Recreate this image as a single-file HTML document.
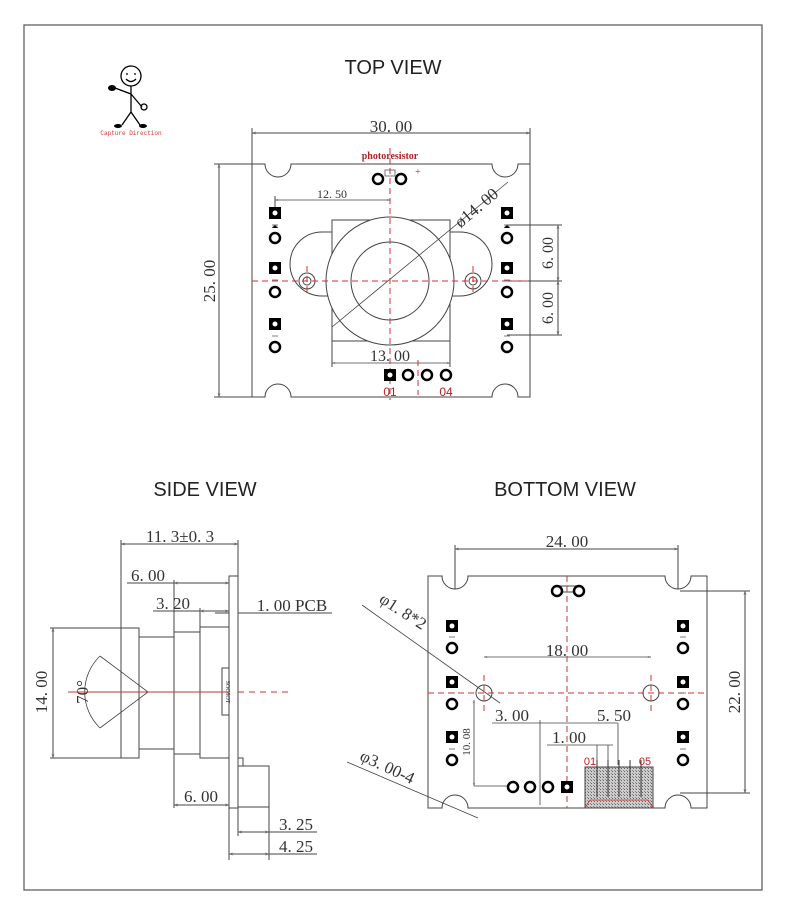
<!DOCTYPE html>
<html><head><meta charset="utf-8"><style>
html,body{margin:0;padding:0;background:#fff;width:790px;height:910px;overflow:hidden}
svg{display:block}
.t{font-family:"Liberation Serif",serif;fill:#333}
.s{font-family:"Liberation Sans",sans-serif;fill:#222}
</style></head><body>
<svg width="790" height="910" viewBox="0 0 790 910" xmlns="http://www.w3.org/2000/svg">
<rect x="24" y="25" width="738" height="865" fill="none" stroke="#555" stroke-width="1.2"/>
<defs>
<marker id="a" viewBox="0 0 10 10" refX="10" refY="5" markerWidth="6" markerHeight="4" orient="auto-start-reverse"><path d="M0,2 L10,5 L0,8" fill="none" stroke="#666"/></marker>
<pattern id="h" width="3" height="3" patternUnits="userSpaceOnUse"><rect width="3" height="3" fill="#ccc"/><rect width="1" height="1" fill="#666"/><rect x="2" y="2" width="1" height="1" fill="#888"/></pattern>
</defs>

<!-- stick figure -->
<g stroke="#000" stroke-width="1.3" fill="none">
<circle cx="131" cy="76" r="10"/>
<path d="M126,74 h2 M134,74 h2"/><path d="M126,79 q5,5 10,0"/>
<path d="M131,86 L131,112 M131,112 L122,125 M131,112 L140,125 M131,94 L115,88 M131,94 L142,107"/>
<circle cx="144" cy="107" r="3"/>
</g>
<ellipse cx="112" cy="88" rx="4" ry="3" fill="#000"/>
<ellipse cx="118" cy="126" rx="4" ry="2" fill="#000"/><ellipse cx="143" cy="126" rx="4" ry="2" fill="#000"/>
<text x="131" y="135" font-size="6" fill="#d33" text-anchor="middle" font-family="Liberation Mono,monospace">Capture Direction</text>

<text x="393" y="74" font-size="20" class="s" text-anchor="middle">TOP VIEW</text>
<text x="205" y="496" font-size="20" class="s" text-anchor="middle">SIDE VIEW</text>
<text x="565" y="496" font-size="20" class="s" text-anchor="middle">BOTTOM  VIEW</text>

<!-- TOP VIEW -->
<g stroke="#444" stroke-width="1" fill="none">
<path d="M252,164 H265 A13,13 0 0 0 291,164 H492 A13,13 0 0 0 518,164 H530 V397 H518 A13,13 0 0 0 492,397 H291 A13,13 0 0 0 265,397 H252 Z"/>
<rect x="332" y="220" width="118" height="121"/>
<path d="M332,232 H322 A15,15 0 0 0 322,296 H332" /> 
<path d="M450,232 H460 A15,15 0 0 1 460,296 H450"/>
<circle cx="307" cy="281" r="8"/><circle cx="307" cy="281" r="4"/>
<circle cx="473" cy="281" r="8"/><circle cx="473" cy="281" r="4"/>
<circle cx="390" cy="281" r="64" fill="#fff"/>
<circle cx="390" cy="281" r="39"/>
<line x1="332" y1="327" x2="508" y2="182" stroke-width="0.8"/>
<!-- dims -->
<path d="M252,164 V128 M530,164 V128"/>
<line x1="252" y1="133" x2="530" y2="133" marker-start="url(#a)" marker-end="url(#a)"/>
<path d="M252,164 H214 M252,397 H214"/>
<line x1="219" y1="164" x2="219" y2="397" marker-start="url(#a)" marker-end="url(#a)"/>
<line x1="275" y1="200" x2="390" y2="200" marker-start="url(#a)" marker-end="url(#a)" stroke-width="0.8"/>
<path d="M275,196 V212"/>
<path d="M332,341 V367 M450,341 V367"/>
<line x1="332" y1="363" x2="450" y2="363" marker-start="url(#a)" marker-end="url(#a)" stroke-width="0.8"/>
<path d="M507,225 H562 M507,281 H562 M507,335 H562"/>
<line x1="558" y1="225" x2="558" y2="281" marker-start="url(#a)" marker-end="url(#a)"/>
<line x1="558" y1="281" x2="558" y2="335" marker-start="url(#a)" marker-end="url(#a)"/>
</g>
<g stroke="#c33" stroke-width="1" stroke-dasharray="6,4" fill="none">
<line x1="390" y1="148" x2="390" y2="400"/>
<line x1="252" y1="281" x2="530" y2="281"/>
<line x1="307" y1="266" x2="307" y2="296"/><line x1="473" y1="266" x2="473" y2="296"/>
<line x1="418" y1="360" x2="418" y2="395"/>
</g>
<!-- pads top -->
<g stroke="#000" stroke-width="2.5" fill="#fff">
<circle cx="378" cy="179" r="5"/><circle cx="401" cy="179" r="5"/>
<circle cx="275" cy="238" r="5"/><circle cx="275" cy="292" r="5"/><circle cx="275" cy="347" r="5"/>
<circle cx="507" cy="238" r="5"/><circle cx="507" cy="292" r="5"/><circle cx="507" cy="347" r="5"/>
<circle cx="408" cy="375" r="5"/><circle cx="427" cy="375" r="5"/><circle cx="446" cy="375" r="5"/>
</g>
<g fill="#000">
<rect x="269" y="207" width="12" height="12"/><rect x="269" y="262" width="12" height="12"/><rect x="269" y="318" width="12" height="12"/>
<rect x="501" y="207" width="12" height="12"/><rect x="501" y="262" width="12" height="12"/><rect x="501" y="318" width="12" height="12"/>
<rect x="384" y="369" width="12" height="12"/>
</g>
<g fill="#fff"><circle cx="275" cy="213" r="2.5"/><circle cx="275" cy="268" r="2.5"/><circle cx="275" cy="324" r="2.5"/><circle cx="507" cy="213" r="2.5"/><circle cx="507" cy="268" r="2.5"/><circle cx="507" cy="324" r="2.5"/><circle cx="390" cy="375" r="2.5"/></g>
<g stroke="#555" stroke-width="0.8"><path d="M272,225 h6 M272,228 l3,-3 l3,3 M507,225 m-3,0 h6 M504,228 l3,-3 l3,3 M272,280 h6 M504,280 h6 M272,336 h6 M504,336 h6"/><rect x="385" y="170" width="10" height="6" fill="none"/></g>
<text x="390" y="159" font-size="10" fill="#a22" font-weight="bold" text-anchor="middle" font-family="Liberation Serif,serif">photoresistor</text>
<text x="418" y="175" font-size="10" fill="#c33" text-anchor="middle">+</text>
<text x="391" y="132" font-size="17" class="t" text-anchor="middle">30. 00</text>
<text x="215" y="281" font-size="17" class="t" text-anchor="middle" transform="rotate(-90 215 281)">25. 00</text>
<text x="332" y="198" font-size="12" class="t" text-anchor="middle">12. 50</text>
<text x="390" y="361" font-size="16" class="t" text-anchor="middle">13. 00</text>
<text x="480" y="212" font-size="17" class="t" text-anchor="middle" transform="rotate(-40 480 212)">ø14. 00</text>
<text x="553" y="253" font-size="16" class="t" text-anchor="middle" transform="rotate(-90 553 253)">6. 00</text>
<text x="553" y="308" font-size="16" class="t" text-anchor="middle" transform="rotate(-90 553 308)">6. 00</text>
<text x="390" y="396" font-size="12" fill="#b22" text-anchor="middle" font-family="Liberation Sans,sans-serif">01</text>
<text x="446" y="396" font-size="12" fill="#b22" text-anchor="middle" font-family="Liberation Sans,sans-serif">04</text>

<!-- SIDE VIEW -->
<g stroke="#444" stroke-width="1" fill="none">
<rect x="229" y="576" width="9" height="232" fill="#fff"/>
<rect x="121" y="628" width="18" height="130"/>
<rect x="139" y="637" width="35" height="112"/>
<rect x="174" y="632" width="26" height="122"/>
<rect x="200" y="627" width="29" height="131"/>
<rect x="222" y="668" width="7" height="47"/>
<rect x="238" y="766" width="31" height="41"/>
<rect x="238" y="758" width="5" height="8"/>
<path d="M100,656 L148,692 L100,728 M100,656 A50,50 0 0 0 100,728" stroke-width="0.8"/>
<path d="M121,628 V540 M238,576 V540"/>
<line x1="121" y1="544" x2="238" y2="544" marker-start="url(#a)" marker-end="url(#a)"/>
<path d="M121,628 H50 M121,758 H50"/>
<line x1="53" y1="628" x2="53" y2="758" marker-start="url(#a)" marker-end="url(#a)"/>
<path d="M174,632 V580 M200,627 V608 M127,583 H174 M153,611 H200"/>
<line x1="174" y1="583" x2="229" y2="583" marker-start="url(#a)" marker-end="url(#a)"/>
<line x1="200" y1="611" x2="229" y2="611" marker-start="url(#a)" marker-end="url(#a)"/>
<path d="M215,613 H229 M238,613 H332"/>
<path d="M174,754 V808 M229,808 V860 M269,807 V860 M238,808 V836"/>
<line x1="174" y1="805" x2="229" y2="805" marker-start="url(#a)" marker-end="url(#a)"/>
<line x1="238" y1="832" x2="269" y2="832" marker-start="url(#a)" marker-end="url(#a)"/><path d="M269,832 H317"/>
<line x1="229" y1="854" x2="269" y2="854" marker-start="url(#a)" marker-end="url(#a)"/><path d="M269,854 H317"/>
</g>
<line x1="68" y1="692" x2="229" y2="692" stroke="#c33"/>
<line x1="238" y1="692" x2="290" y2="692" stroke="#c33" stroke-dasharray="6,5"/>
<text x="180" y="542" font-size="17" class="t" text-anchor="middle">11. 3±0. 3</text>
<text x="148" y="581" font-size="17" class="t" text-anchor="middle">6. 00</text>
<text x="173" y="609" font-size="17" class="t" text-anchor="middle">3. 20</text>
<text x="292" y="611" font-size="17" class="t" text-anchor="middle">1. 00 PCB</text>
<text x="47" y="692" font-size="17" class="t" text-anchor="middle" transform="rotate(-90 47 692)">14. 00</text>
<text x="88" y="692" font-size="17" class="t" text-anchor="middle" transform="rotate(-90 88 692)">70°</text>
<text x="201" y="802" font-size="17" class="t" text-anchor="middle">6. 00</text>
<text x="296" y="830" font-size="17" class="t" text-anchor="middle">3. 25</text>
<text x="296" y="852" font-size="17" class="t" text-anchor="middle">4. 25</text>
<text x="226" y="692" font-size="6" class="t" text-anchor="middle" transform="rotate(90 226 692)">SOC8OT</text>

<!-- BOTTOM VIEW -->
<g stroke="#444" stroke-width="1" fill="none">
<path d="M428,576 H442 A13,13 0 0 0 468,576 H665 A13,13 0 0 0 691,576 H707 V808 H691 A13,13 0 0 0 665,808 H468 A13,13 0 0 0 442,808 H428 Z"/>
<circle cx="484" cy="693" r="8"/><circle cx="651" cy="693" r="8"/>
<path d="M455,589 V545 M678,589 V545"/>
<line x1="455" y1="549" x2="678" y2="549" marker-start="url(#a)" marker-end="url(#a)"/>
<line x1="484" y1="657" x2="651" y2="657" marker-start="url(#a)" marker-end="url(#a)" stroke-width="0.8"/>
<path d="M680,591 H750 M680,793 H750"/>
<line x1="745" y1="591" x2="745" y2="793" marker-start="url(#a)" marker-end="url(#a)"/>
<line x1="362" y1="605" x2="500" y2="703" stroke-width="0.8"/>
<line x1="347" y1="762" x2="478" y2="818" stroke-width="0.8"/>
<line x1="474" y1="700" x2="474" y2="786" marker-start="url(#a)" marker-end="url(#a)" stroke-width="0.8"/>
<path d="M474,786 H510 M540,720 V805 M618,723 V765" stroke-width="0.8"/>
<line x1="492" y1="723" x2="618" y2="723" stroke-width="0.8"/>
<line x1="547" y1="745" x2="613" y2="745" stroke-width="0.8"/>
<path d="M597,745 V800 M608,745 V800" stroke-width="0.8"/>
<rect x="585" y="767" width="68" height="41" fill="url(#h)"/>
<path d="M597,760 V797 M608,760 V797 M619,760 V797 M630,760 V797 M641,760 V797" stroke="#333"/>
<rect x="557" y="586" width="22" height="6"/>
</g>
<g stroke="#c33" stroke-width="1" stroke-dasharray="6,4" fill="none">
<line x1="567" y1="576" x2="567" y2="808"/>
<line x1="428" y1="693" x2="707" y2="693"/>
<line x1="484" y1="675" x2="484" y2="712"/><line x1="651" y1="675" x2="651" y2="712"/>
</g>
<path d="M590,800 L585,808 M648,800 L653,808 M590,800 H648" stroke="#c33" fill="none" stroke-width="0.8"/>
<g stroke="#000" stroke-width="2.5" fill="#fff">
<circle cx="557" cy="591" r="5"/><circle cx="579" cy="591" r="5"/>
<circle cx="452" cy="648" r="5"/><circle cx="452" cy="704" r="5"/><circle cx="452" cy="760" r="5"/>
<circle cx="683" cy="648" r="5"/><circle cx="683" cy="704" r="5"/><circle cx="683" cy="760" r="5"/>
<circle cx="513" cy="787" r="5"/><circle cx="530" cy="787" r="5"/><circle cx="548" cy="787" r="5"/>
</g>
<g fill="#000">
<rect x="446" y="620" width="12" height="12"/><rect x="446" y="676" width="12" height="12"/><rect x="446" y="731" width="12" height="12"/>
<rect x="677" y="620" width="12" height="12"/><rect x="677" y="676" width="12" height="12"/><rect x="677" y="731" width="12" height="12"/>
<rect x="561" y="781" width="12" height="12"/>
</g>
<g fill="#fff"><circle cx="452" cy="626" r="2.5"/><circle cx="452" cy="682" r="2.5"/><circle cx="452" cy="737" r="2.5"/><circle cx="683" cy="626" r="2.5"/><circle cx="683" cy="682" r="2.5"/><circle cx="683" cy="737" r="2.5"/><circle cx="567" cy="787" r="2.5"/></g>
<g stroke="#555" stroke-width="0.8"><path d="M449,637 h6 M449,693 h6 M449,749 h6 M680,637 h6 M680,693 h6 M680,749 h6"/></g>
<text x="567" y="547" font-size="17" class="t" text-anchor="middle">24. 00</text>
<text x="567" y="656" font-size="17" class="t" text-anchor="middle">18. 00</text>
<text x="740" y="692" font-size="17" class="t" text-anchor="middle" transform="rotate(-90 740 692)">22. 00</text>
<text x="400" y="616" font-size="17" class="t" text-anchor="middle" transform="rotate(33 400 616)">φ1. 8*2</text>
<text x="385" y="772" font-size="17" class="t" text-anchor="middle" transform="rotate(25 385 772)">φ3. 00-4</text>
<text x="470" y="742" font-size="11" class="t" text-anchor="middle" transform="rotate(-90 470 742)">10. 08</text>
<text x="512" y="721" font-size="17" class="t" text-anchor="middle">3. 00</text>
<text x="614" y="721" font-size="17" class="t" text-anchor="middle">5. 50</text>
<text x="569" y="743" font-size="17" class="t" text-anchor="middle">1. 00</text>
<text x="590" y="765" font-size="11" fill="#b22" text-anchor="middle" font-family="Liberation Sans,sans-serif">01</text>
<text x="645" y="765" font-size="11" fill="#b22" text-anchor="middle" font-family="Liberation Sans,sans-serif">05</text>
</svg>
</body></html>
